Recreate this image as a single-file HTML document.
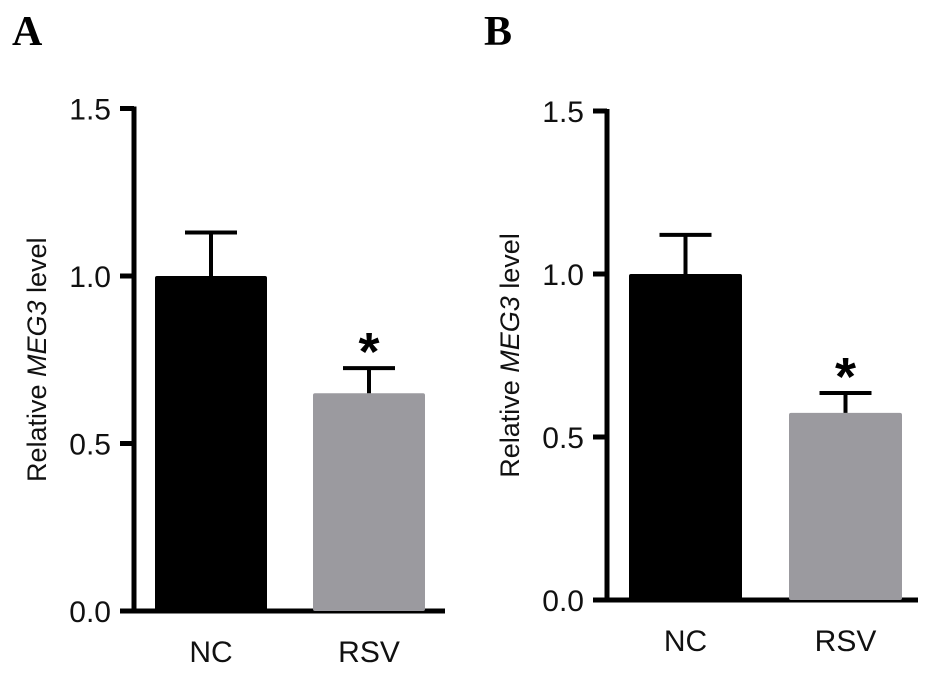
<!DOCTYPE html>
<html><head><meta charset="utf-8"><style>
body{margin:0;background:#fff;}
svg{display:block;font-family:"Liberation Sans",Arial,sans-serif;}
</style></head><body>
<svg id="s" width="931" height="678" viewBox="0 0 931 678">
<text x="12" y="45" font-family="Liberation Serif,serif" font-weight="bold" font-size="42">A</text>
<text x="484" y="45" font-family="Liberation Serif,serif" font-weight="bold" font-size="42">B</text>
</svg>
<script>
const categories = ["NC","RSV"];
const valuesA = [1.0, 0.65];
const errorsA = [0.13, 0.075];
const valuesB = [1.0, 0.574];
const errorsB = [0.12, 0.061];
const ticks = [0, 0.5, 1.0, 1.5];
const tickLabels = ["0.0","0.5","1.0","1.5"];
const colors = ["#000000","#9b9a9f"];
const sig = ["", "*"];
const NS = "http://www.w3.org/2000/svg";
const svg = document.getElementById('s');
function mk(tag, attrs, parent){const e=document.createElementNS(NS,tag);for(const k in attrs)e.setAttribute(k,attrs[k]);(parent||svg).appendChild(e);return e;}
function panel(p, vals, errs){
  const g = mk('g',{});
  
  
  const y = v => p.y0 - v*p.unit;
  const ax = mk('line',{x1:p.ax,x2:p.ax,y1:y(1.5)-2,y2:p.y0+2,stroke:'#000','stroke-width':5},g);
  
  
  const bx = mk('line',{x1:p.ax-14,x2:p.xEnd,y1:p.y0,y2:p.y0,stroke:'#000','stroke-width':5},g);
  
  
  ticks.forEach((t,i)=>{
    const tl = mk('line',{x1:p.ax-14,x2:p.ax,y1:y(t),y2:y(t),stroke:'#000','stroke-width':5},g);
    
    
    const tx = mk('text',{x:p.ax-23,y:y(t)+11,'text-anchor':'end','font-size':30,fill:'#111'},g);
    tx.textContent = tickLabels[i];
    
    
  });
  const ttl = mk('text',{transform:`translate(${p.ax-88},${y(0.75)}) rotate(-90)`,'text-anchor':'middle','font-size':27,fill:'#111'},g);
  ttl.innerHTML = 'Relative <tspan font-style="italic">MEG3</tspan> level';
  
  
  categories.forEach((c,i)=>{
    const x0 = p.bx[i], w = p.bw, cx = x0 + w/2;
    const r = mk('rect',{x:x0,y:y(vals[i]),width:w,height:p.y0-y(vals[i]),fill:colors[i],rx:2},g);
    
    
    const e = mk('path',{d:`M${cx},${y(vals[i])} V${y(vals[i]+errs[i])} M${cx-26},${y(vals[i]+errs[i])} H${cx+26}`,stroke:'#000','stroke-width':4,fill:'none'},g);
    
    
    if(sig[i]){
      const s = mk('text',{x:cx,y:y(vals[i]+errs[i])+2,'text-anchor':'middle','font-size':54,'font-weight':'bold'},g);
      s.textContent = sig[i];
      
      
    }
    const l = mk('text',{x:cx,y:p.y0+51,'text-anchor':'middle','font-size':30,fill:'#111'},g);
    l.textContent = c;
    
    
  });
}
panel({id:'a',ax:134,y0:611,unit:335,xEnd:445,bx:[155,313],bw:112}, valuesA, errorsA);
panel({id:'b',ax:607,y0:600,unit:326,xEnd:918,bx:[629,789],bw:113}, valuesB, errorsB);
</script>
</body></html>
